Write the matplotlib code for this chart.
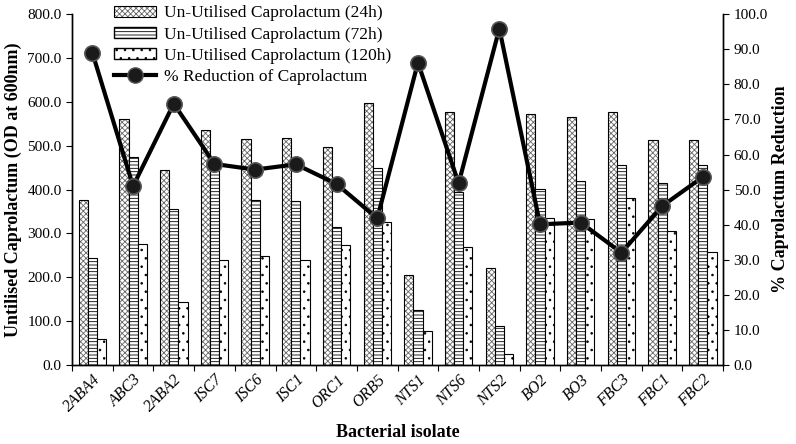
import matplotlib
matplotlib.use("Agg")
import matplotlib.pyplot as plt
import numpy as np
from matplotlib.ticker import FormatStrFormatter
from matplotlib.lines import Line2D
from matplotlib.patches import Patch
from matplotlib.legend_handler import HandlerTuple

plt.rcParams['font.family'] = ['Liberation Serif', 'DejaVu Serif']
plt.rcParams['hatch.linewidth'] = 0.6

isolates = ["2ABA4", "ABC3", "2ABA2", "ISC7", "ISC6", "ISC1", "ORC1", "ORB5",
            "NTS1", "NTS6", "NTS2", "BO2", "BO3", "FBC3", "FBC1", "FBC2"]
h24 = [377, 560, 445, 535, 515, 518, 497, 598, 205, 578, 222, 572, 565, 576, 513, 514]
h72 = [245, 475, 355, 470, 377, 373, 315, 450, 125, 395, 90, 402, 420, 457, 415, 455]
h120 = [60, 275, 143, 240, 248, 240, 273, 327, 77, 270, 25, 336, 333, 381, 305, 258]
reduction = [89.0, 51.0, 74.5, 57.3, 55.7, 57.2, 51.6, 41.8, 86.2, 51.8, 95.9, 40.1, 40.6, 32.0, 45.3, 53.6]

fig = plt.figure(figsize=(7.96, 4.44), dpi=100)
ax = fig.add_axes([0.0905, 0.178, 0.818, 0.79])
ax2 = ax.twinx()

x = np.arange(len(isolates))
w = 0.225
# 24h: grey hatch under a black outline
ax.bar(x - w, h24, w, facecolor='white', edgecolor='#666666', hatch='xxxxxx', linewidth=0)
ax.bar(x - w, h24, w, facecolor='none', edgecolor='black', linewidth=0.8)
ax.bar(x, h72, w, facecolor='white', edgecolor='black', hatch='-----', linewidth=0.8)
ax.bar(x + w, h120, w, facecolor='white', edgecolor='black', hatch='..', linewidth=0.8)

ax2.plot(x, reduction, color='black', lw=3, marker='o', markersize=11,
         markerfacecolor='#1a1a1a', markeredgecolor='#555555', markeredgewidth=1.2)

ax.set_xlim(-0.5, len(isolates) - 0.5)
ax.set_ylim(0, 800)
ax2.set_ylim(0, 100)
ax.set_yticks(np.arange(0, 801, 100))
ax2.set_yticks(np.arange(0, 101, 10))
ax.yaxis.set_major_formatter(FormatStrFormatter('%.1f'))
ax2.yaxis.set_major_formatter(FormatStrFormatter('%.1f'))

ax.set_xticks(np.arange(-0.5, len(isolates), 1.0))
ax.set_xticklabels([])
ax.set_xticks(x, minor=True)
ax.set_xticklabels(isolates, minor=True, rotation=45, ha='right', rotation_mode='anchor',
                   fontstyle='italic', fontsize=11.5)
ax.tick_params(axis='x', which='minor', length=0, pad=5)
ax.tick_params(axis='x', which='major', length=4, direction='out')
ax.tick_params(axis='y', labelsize=11, length=4, direction='out', colors='black')
ax2.tick_params(axis='y', labelsize=11, length=4, direction='out')

for a in (ax, ax2):
    a.spines['top'].set_visible(False)
    for s in ('left', 'right', 'bottom'):
        a.spines[s].set_linewidth(1.0)

ax.set_ylabel('Untilised Caprolactum (OD at 600nm)', fontsize=13, fontweight='bold')
ax2.set_ylabel('% Caprolactum Reduction', fontsize=13, fontweight='bold', labelpad=3)
ax.set_xlabel('Bacterial isolate', fontsize=13, fontweight='bold', labelpad=6)

h24_handle = (Patch(facecolor='white', edgecolor='#666666', hatch='xxxxxx', linewidth=0),
              Patch(facecolor='none', edgecolor='black', linewidth=0.8))
handles = [
    h24_handle,
    Patch(facecolor='white', edgecolor='black', hatch='-----'),
    Patch(facecolor='white', edgecolor='black', hatch='..'),
    Line2D([0], [0], color='black', lw=3, marker='o', markersize=11,
           markerfacecolor='#1a1a1a', markeredgecolor='#555555'),
]
labels = ['Un-Utilised Caprolactum (24h)', 'Un-Utilised Caprolactum (72h)',
          'Un-Utilised Caprolactum (120h)', '% Reduction of Caprolactum']
ax2.legend(handles=handles, labels=labels, loc='upper left', bbox_to_anchor=(0.054, 1.045),
           frameon=False, fontsize=12.5, handlelength=2.4, handleheight=0.6, handletextpad=0.5,
           labelspacing=0.3, borderaxespad=0,
           handler_map={tuple: HandlerTuple(ndivide=1, pad=0)})

fig.savefig('out.png', dpi=100)
